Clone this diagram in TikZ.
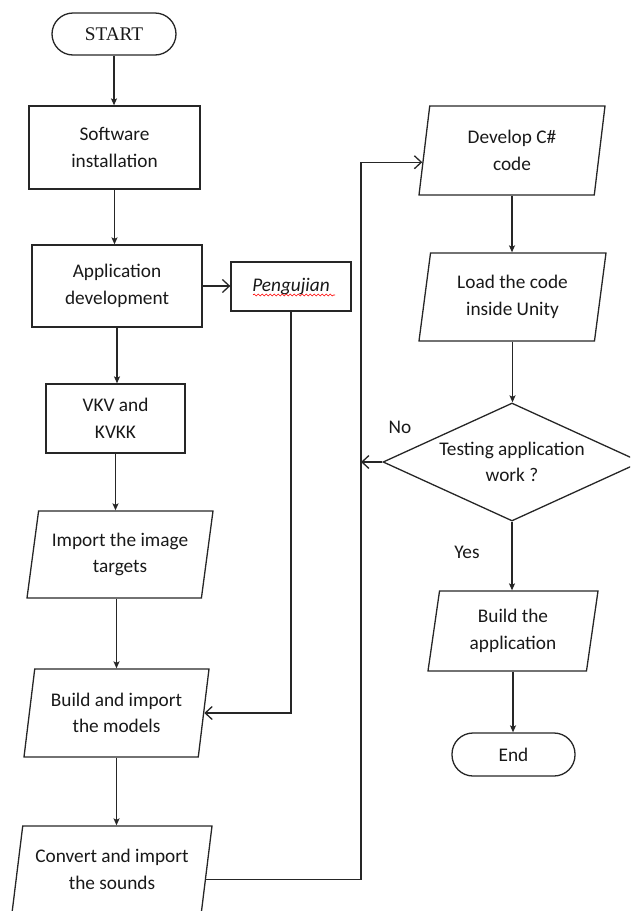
\documentclass[tikz,border=0pt]{standalone}
\usepackage{fontspec}
\setmainfont{Carlito}
\newfontfamily\startfont{Liberation Serif}
\usetikzlibrary{arrows.meta,shapes.geometric,calc,decorations.pathmorphing}
\begin{document}
\begin{tikzpicture}[x=1pt,y=-1pt,line width=1.3pt,color=black!85,
  every node/.style={font=\fontsize{19.3}{26.5}\selectfont,text=black!90,align=center,inner sep=0pt},
  proc/.style={draw,rectangle},
  term/.style={draw,rectangle,rounded corners=21pt},
  io/.style={draw,trapezium,trapezium left angle=75,trapezium right angle=105,trapezium stretches body},
  decide/.style={draw,diamond,aspect=2.19},
  arr/.style={-{Stealth[length=7pt,width=6pt,inset=1.5pt]}},
  oarr/.style={-{Straight Barb[length=7pt,width=13pt]}},
  wavy/.style={red,line width=0.6pt,decorate,decoration={snake,amplitude=1pt,segment length=4pt}}]
\useasboundingbox (0,0) rectangle (630,911);
\clip (0,0) rectangle (630,911);

\node[term,font=\startfont\fontsize{19.3}{24}\selectfont,minimum width=124pt,minimum height=42pt] (start) at (114,34) {START};
\node[proc,minimum width=171pt,minimum height=83pt] (soft) at (114.5,147.5) {Software\\installation};
\node[proc,minimum width=170pt,minimum height=82pt] (app) at (117,286) {Application\\development};
\node[proc,minimum width=120pt,minimum height=49pt] (peng) at (291,286.5) {\itshape Pengujian};
\node[proc,minimum width=139pt,minimum height=69pt] (vkv) at (115.5,418.5) {VKV and\\KVKK};
\node[io,minimum width=186pt,minimum height=87pt] (imp) at (120,554.5) {Import the image\\targets};
\node[io,minimum width=185pt,minimum height=88pt] (bmod) at (116.5,713) {Build and import\\the models};
\node[io,minimum width=200pt,minimum height=87pt] (conv) at (112,869.5) {Convert and import\\the sounds};
\node[io,minimum width=186pt,minimum height=89pt] (dev) at (512,150.5) {Develop C\#\\code};
\node[io,minimum width=187pt,minimum height=88pt] (load) at (512.5,297) {Load the code\\inside Unity};
\node[decide,minimum width=258pt,minimum height=118pt] (test) at (512,462) {Testing application\\work ?};
\node[io,minimum width=170pt,minimum height=80pt] (bapp) at (513,631) {Build the\\application};
\node[term,minimum width=123pt,minimum height=43pt] (end) at (513.5,754.5) {End};
\node (no) at (400,427) {No};
\node (yes) at (467,552) {Yes};

\draw[wavy] ($(peng.center)+(-38,8.5)$) -- ($(peng.center)+(44,8.5)$);

\coordinate (bus) at (361,0);
\coordinate (cp) at ($(conv.bottom right corner)!0.39!(conv.top right corner)$);
\coordinate (dp) at ($(dev.bottom left corner)!0.37!(dev.top left corner)$);

\draw[arr] (start.south) -- (start.south |- soft.north);
\draw[arr] (soft.south) -- (soft.south |- app.north);
\draw[arr] (app.south) -- (app.south |- vkv.north);
\draw[arr] (vkv.south) -- (vkv.south |- imp.north);
\draw[arr] (bmod.north |- imp.south) -- (bmod.north);
\draw[arr] (bmod.south) -- (bmod.south |- conv.north);
\draw[oarr] (app.east) -- (app.east -| peng.west);
\draw[oarr] (peng.south) |- (bmod.east);
\draw[arr] (dev.south) -- (dev.south |- load.north);
\draw[arr] (load.south) -- (load.south |- test.north);
\draw[arr] (test.south) -- (test.south |- bapp.north);
\draw[arr] (bapp.south) -- (bapp.south |- end.north);
\draw[oarr] (test.west) -- (bus |- test.west);
\draw[oarr] (cp) -| (bus |- dp) -- (dp);
\end{tikzpicture}
\end{document}
